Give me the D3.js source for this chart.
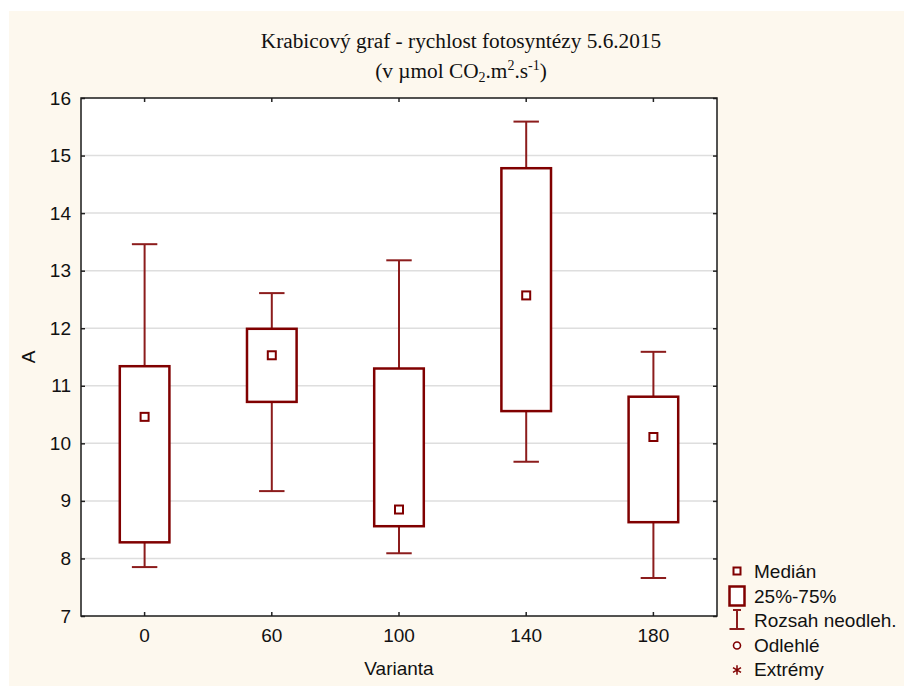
<!DOCTYPE html>
<html>
<head>
<meta charset="utf-8">
<script src="https://cdnjs.cloudflare.com/ajax/libs/d3/7.8.5/d3.min.js"></script>
<style>
  html, body { margin: 0; padding: 0; background: #fff; }
  svg { display: block; }
  .tick text { font-family: "Liberation Sans", Arial, sans-serif; font-size: 19px; fill: #111; }
</style>
</head>
<body>
<div id="chart"></div>
<script>
// data
const categories = ["0", "60", "100", "140", "180"];
const medians  = [10.46, 11.53, 8.85, 12.57, 10.11];
const q1       = [8.28, 10.72, 8.56, 10.56, 8.63];
const q3       = [11.34, 11.99, 11.30, 14.78, 10.81];
const whiskLo  = [7.85, 9.17, 8.09, 9.68, 7.66];
const whiskHi  = [13.46, 12.61, 13.18, 15.59, 11.59];
const yTicks   = [7, 8, 9, 10, 11, 12, 13, 14, 15, 16];
const legendLabels = ["Medián", "25%-75%", "Rozsah neodleh.", "Odlehlé", "Extrémy"];

const W = 904, H = 686;
const plot = { left: 81, top: 98, right: 717, bottom: 616 };
const RED = "#800000";
const WHISK = "#8c1c1c";

const svg = d3.select("#chart").append("svg")
  .attr("width", W).attr("height", H);

// cream panel
svg.append("rect")
  .attr("x", 9).attr("y", 11)
  .attr("width", W - 9).attr("height", H - 11)
  .attr("fill", "#fdf8ee");

const x = d3.scaleBand()
  .domain(categories)
  .range([plot.left, plot.right])
  .padding(0);
const y = d3.scaleLinear()
  .domain([7, 16])
  .range([plot.bottom, plot.top]);

// plot background
svg.append("rect")
  .attr("x", plot.left).attr("y", plot.top)
  .attr("width", plot.right - plot.left)
  .attr("height", plot.bottom - plot.top)
  .attr("fill", "#fff");

// grid
svg.append("g")
  .selectAll("line")
  .data(yTicks.slice(1, -1))
  .join("line")
  .attr("x1", plot.left).attr("x2", plot.right)
  .attr("y1", d => y(d)).attr("y2", d => y(d))
  .attr("stroke", "#dedede")
  .attr("stroke-width", 1.5);

// axes
const cx = d => x(d) + x.bandwidth() / 2;

svg.append("g")
  .attr("transform", `translate(${plot.left},0)`)
  .call(d3.axisLeft(y).tickValues(yTicks).tickSize(-4).tickPadding(10).tickFormat(d3.format("d")))
  .call(g => g.select(".domain").remove());
svg.append("g")
  .attr("transform", `translate(${plot.right},0)`)
  .call(d3.axisRight(y).tickValues(yTicks).tickSize(-4).tickFormat(""))
  .call(g => g.select(".domain").remove());
svg.append("g")
  .attr("transform", `translate(0,${plot.bottom})`)
  .call(d3.axisBottom(x).tickSize(-4).tickPadding(13))
  .call(g => g.select(".domain").remove());
svg.append("g")
  .attr("transform", `translate(0,${plot.top})`)
  .call(d3.axisTop(x).tickSize(-4).tickFormat(""))
  .call(g => g.select(".domain").remove());
svg.selectAll(".tick line").attr("stroke", "#222").attr("stroke-width", 1.5);

// frame
svg.append("rect")
  .attr("x", plot.left).attr("y", plot.top)
  .attr("width", plot.right - plot.left)
  .attr("height", plot.bottom - plot.top)
  .attr("fill", "none")
  .attr("stroke", "#1a1a1a")
  .attr("stroke-width", 1.5);

// boxes
const boxW = x.bandwidth() * 0.39;
const capW = x.bandwidth() * 0.2;
const boxes = svg.append("g")
  .selectAll("g")
  .data(categories.map((c, i) => ({ c, i })))
  .join("g");

boxes.append("line")
  .attr("x1", d => cx(d.c)).attr("x2", d => cx(d.c))
  .attr("y1", d => y(whiskHi[d.i])).attr("y2", d => y(q3[d.i]))
  .attr("stroke", WHISK).attr("stroke-width", 2);
boxes.append("line")
  .attr("x1", d => cx(d.c)).attr("x2", d => cx(d.c))
  .attr("y1", d => y(q1[d.i])).attr("y2", d => y(whiskLo[d.i]))
  .attr("stroke", WHISK).attr("stroke-width", 2);
boxes.append("line")
  .attr("x1", d => cx(d.c) - capW / 2).attr("x2", d => cx(d.c) + capW / 2)
  .attr("y1", d => y(whiskHi[d.i])).attr("y2", d => y(whiskHi[d.i]))
  .attr("stroke", WHISK).attr("stroke-width", 2);
boxes.append("line")
  .attr("x1", d => cx(d.c) - capW / 2).attr("x2", d => cx(d.c) + capW / 2)
  .attr("y1", d => y(whiskLo[d.i])).attr("y2", d => y(whiskLo[d.i]))
  .attr("stroke", WHISK).attr("stroke-width", 2);
boxes.append("rect")
  .attr("x", d => cx(d.c) - boxW / 2)
  .attr("y", d => y(q3[d.i]))
  .attr("width", boxW)
  .attr("height", d => y(q1[d.i]) - y(q3[d.i]))
  .attr("fill", "#fff")
  .attr("stroke", RED).attr("stroke-width", 2.5);
boxes.append("rect")
  .attr("x", d => cx(d.c) - 4)
  .attr("y", d => y(medians[d.i]) - 4)
  .attr("width", 8).attr("height", 8)
  .attr("fill", "#fff")
  .attr("stroke", RED).attr("stroke-width", 2);

// axis titles
const sans = '"Liberation Sans", Arial, sans-serif';
svg.append("text")
  .attr("transform", "translate(35,357) rotate(-90)")
  .attr("text-anchor", "middle")
  .attr("font-family", sans).attr("font-size", 19).attr("fill", "#111")
  .text("A");
svg.append("text")
  .attr("x", (plot.left + plot.right) / 2).attr("y", 675)
  .attr("text-anchor", "middle")
  .attr("font-family", sans).attr("font-size", 19).attr("fill", "#111")
  .text("Varianta");

// title
const serif = '"Liberation Serif", "Times New Roman", serif';
svg.append("text")
  .attr("x", 461).attr("y", 48)
  .attr("text-anchor", "middle")
  .attr("font-family", serif).attr("font-size", 21.3).attr("fill", "#111")
  .text("Krabicový graf - rychlost fotosyntézy 5.6.2015");
const t2 = svg.append("text")
  .attr("x", 461).attr("y", 78)
  .attr("text-anchor", "middle")
  .attr("font-family", serif).attr("font-size", 21.3).attr("fill", "#111");
t2.append("tspan").text("(v µmol CO");
t2.append("tspan").attr("font-size", 14).attr("dy", 4).text("2");
t2.append("tspan").attr("dy", -4).text(".m");
t2.append("tspan").attr("font-size", 14).attr("dy", -8).text("2");
t2.append("tspan").attr("dy", 8).text(".s");
t2.append("tspan").attr("font-size", 14).attr("dy", -8).text("-1");
t2.append("tspan").attr("dy", 8).text(")");

// legend
const lx = 737, ly0 = 571, lstep = 24.5;
const lg = svg.append("g");
lg.selectAll("text")
  .data(legendLabels)
  .join("text")
  .attr("x", 754)
  .attr("y", (d, i) => ly0 + i * lstep + 7)
  .attr("font-family", sans).attr("font-size", 19).attr("fill", "#111")
  .text(d => d);
// median symbol
lg.append("rect").attr("x", lx - 3.5).attr("y", ly0 - 3.5).attr("width", 7).attr("height", 7)
  .attr("fill", "#fff").attr("stroke", RED).attr("stroke-width", 2);
// box symbol
lg.append("rect").attr("x", lx - 7.5).attr("y", ly0 + lstep - 9).attr("width", 15).attr("height", 19)
  .attr("fill", "#fff").attr("stroke", RED).attr("stroke-width", 2.5);
// whisker symbol
const wy = ly0 + 2 * lstep;
lg.append("path")
  .attr("d", `M${lx - 4},${wy - 10}H${lx + 4}M${lx},${wy - 10}V${wy + 9}M${lx - 7.5},${wy + 9}H${lx + 7.5}`)
  .attr("fill", "none").attr("stroke", WHISK).attr("stroke-width", 2);
// outlier symbol
lg.append("circle").attr("cx", lx).attr("cy", ly0 + 3 * lstep + 1).attr("r", 3.5)
  .attr("fill", "#fff").attr("stroke", RED).attr("stroke-width", 1.6);
// extreme symbol
lg.append("path")
  .attr("d", d3.symbol(d3.symbolAsterisk, 60)())
  .attr("transform", `translate(${lx},${ly0 + 4 * lstep + 1})`)
  .attr("fill", "none").attr("stroke", RED).attr("stroke-width", 1.5);
</script>
</body>
</html>
